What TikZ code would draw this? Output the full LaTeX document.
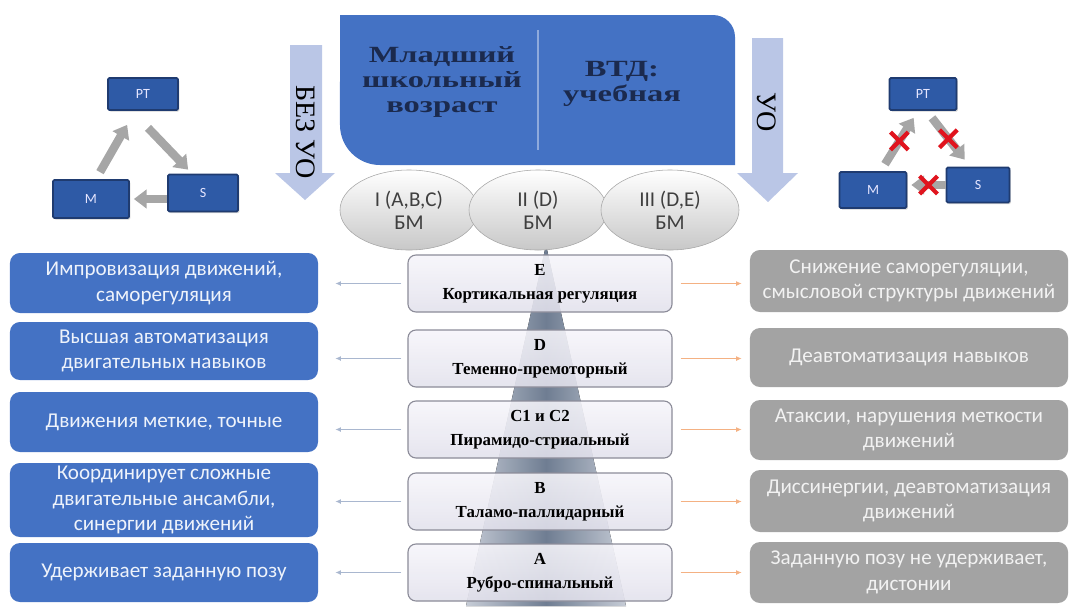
\documentclass[tikz,border=0pt]{standalone}
\usepackage{fontspec}
\setmainfont{Liberation Serif}
\newfontfamily\calib{Carlito}
\newfontfamily\headserif[FakeStretch=1.4]{Liberation Serif}
\usepackage{tikz}
\usetikzlibrary{arrows.meta,positioning,calc,shapes.geometric,shapes.misc,shadows}
\definecolor{office}{HTML}{4472C4}
\definecolor{divider}{HTML}{8FAADC}
\definecolor{headtext}{HTML}{1B2A4E}
\definecolor{flow}{HTML}{BAC6E6}
\definecolor{txtwhite}{HTML}{EEF3FB}
\definecolor{badgray}{HTML}{A3A3A3}
\definecolor{txtgray}{HTML}{F2F2F2}
\definecolor{levgray}{HTML}{8C8C99}
\definecolor{levtop}{HTML}{F6F5FA}
\definecolor{levbot}{HTML}{E2E1EC}
\definecolor{ovgray}{HTML}{A6A6A6}
\definecolor{ovbot}{HTML}{C8C8C8}
\definecolor{ovtext}{HTML}{3F3F3F}
\definecolor{unitblue}{HTML}{2E5AA6}
\definecolor{unitdark}{HTML}{1F3B70}
\definecolor{loopgray}{HTML}{A6A6A6}
\definecolor{crossred}{HTML}{E0141E}
\definecolor{linkblue}{HTML}{A9B7CF}
\definecolor{linkorange}{HTML}{F4B183}
\definecolor{pyrlight}{HTML}{C6CCD6}
\definecolor{pyrdark}{HTML}{6F7D92}

\begin{document}
\begin{tikzpicture}[x=0.025cm,y=0.025cm,>=Latex,every node/.style={font=\calib},
  sidebox/.style={rounded corners=2.5mm,minimum width=77mm,inner sep=0pt,align=center,font=\calib\fontsize{15}{18}\selectfont},
  goodbox/.style={sidebox,fill=office,text=txtwhite},
  badbox/.style={sidebox,fill=badgray,text=txtgray,minimum width=79.5mm},
  levelbox/.style={draw=levgray,line width=.8pt,rounded corners=2mm,top color=levtop,bottom color=levbot,fill opacity=.88,text opacity=1,minimum width=66mm,minimum height=14.25mm,inner sep=0pt,align=center,font=\bfseries\fontsize{12}{17}\selectfont},
  stagebox/.style={ellipse,draw=ovgray,top color=white,bottom color=ovbot,minimum width=34.5mm,minimum height=20mm,inner sep=0pt,align=center,text=ovtext,font=\calib\fontsize{15}{16.5}\selectfont},
  unitbox/.style={draw=unitdark,fill=unitblue,line width=1.2pt,rounded corners=1pt,text=white!90!blue,font=\calib\fontsize{10}{10}\selectfont,drop shadow={opacity=.35,shadow xshift=1pt,shadow yshift=-1.2pt}},
  loop/.style={draw=loopgray,line width=2.1mm,-{Triangle[length=3.2mm,width=4.6mm]}},
  redx/.style={cross out,draw=crossred,line width=3pt,minimum size=3.4mm,inner sep=0pt},
  togood/.style={draw=linkblue,line width=.6pt,-{Latex[length=4pt,width=3.5pt]},shorten <=1.5mm,shorten >=4.25mm},
  tobad/.style={draw=linkorange,line width=.6pt,-{Latex[length=4pt,width=3.5pt]},shorten <=2mm,shorten >=2mm}]
\useasboundingbox (0,0) rectangle (1069,-606);
% header block
\fill[office] (340,-15) -- (713,-15) arc[start angle=90,end angle=0,radius=5.5mm] -- (735,-165) -- (380,-165) arc[start angle=270,end angle=180,radius=10mm] -- cycle;
\draw[divider,line width=1pt] (538,-30) -- (538,-150);
\node[align=center,text=headtext,font=\headserif\bfseries\fontsize{16.5}{18}\selectfont] (age) at (442,-82) {Младший\\школьный\\возраст};
\node[align=center,text=headtext,font=\headserif\bfseries\fontsize{16.5}{18}\selectfont] (act) at (622,-84) {ВТД:\\учебная};
% side arrows
\fill[flow] (290,-45) -- (322,-45) -- (322,-173) -- (335,-173) -- (305,-200) -- (275,-173) -- (290,-173) -- cycle;
\node[rotate=-90,font=\fontsize{20}{20}\selectfont] (noreg) at (306,-132) {БЕЗ УО};
\fill[flow] (752,-38) -- (783,-38) -- (783,-173) -- (798,-173) -- (768,-202) -- (737,-173) -- (752,-173) -- cycle;
\node[rotate=-90,font=\fontsize{20}{20}\selectfont] (reg) at (767,-112) {УО};
% pyramid
\fill[left color=pyrlight,right color=pyrlight,middle color=pyrdark] (546,-245) -- (626,-606) -- (466,-606) -- cycle;
% stages
\node[stagebox] (st1) at (409,-210) {I (A,B,C)\\БМ};
\node[stagebox] (st2) at (538,-210) {II (D)\\БМ};
\node[stagebox] (st3) at (670,-210) {III (D,E)\\БМ};
% levels
\foreach \id/\yl/\hl/\yc/\yr/\hr/\ltxt/\ctxt/\rtxt in {
  e/283/60/283.5/281/62/{Импровизация движений,\\саморегуляция}/{E\\Кортикальная регуляция}/{Снижение саморегуляции,\\смысловой структуры движений},
  d/351/58/358.5/357.5/59/{Высшая автоматизация\\двигательных навыков}/{D\\Теменно-премоторный}/{Деавтоматизация навыков},
  c/422/60/429.5/430/60/{Движения меткие, точные}/{C1 и C2\\Пирамидо-стриальный}/{Атаксии, нарушения меткости\\движений},
  b/500/74/501.5/501/62/{Координирует сложные\\двигательные ансамбли,\\синергии движений}/{B\\Таламо-паллидарный}/{Диссинергии, деавтоматизация\\движений},
  a/572.5/59/572.5/572.5/61/{Удерживает заданную позу}/{A\\Рубро-спинальный}/{Заданную позу не удерживает,\\дистонии}}{
\node[goodbox,minimum height=\hl*0.25mm] (l\id) at (164,-\yl) {\ltxt};
\node[levelbox] (c\id) at (540,-\yc) {\ctxt};
\node[badbox,minimum height=\hr*0.25mm] (r\id) at (909,-\yr) {\rtxt};
\draw[togood] (c\id.west) -- (l\id.east |- c\id.west);
\draw[tobad] (c\id.east) -- (r\id.west |- c\id.east);}
% loop without regulation
\node[unitbox,minimum width=17.5mm,minimum height=8mm] (pt1) at (143,-94) {PT};
\node[unitbox,minimum width=19mm,minimum height=9.5mm] (m1) at (91,-199) {M};
\node[unitbox,minimum width=17.5mm,minimum height=9.25mm] (s1) at (203,-193) {S};
\draw[loop] ($(m1.north)+(9,7)$) -- ($(pt1.south west)+(20,-14)$);
\draw[loop] ($(pt1.south)+(5,-17)$) -- ($(s1.north west)+(21,4)$);
\draw[loop] (s1.west |- m1) -- ($(m1.east)+(4,0)$);
% loop with regulation
\node[unitbox,minimum width=16.75mm,minimum height=8mm] (pt2) at (923,-94) {PT};
\node[unitbox,minimum width=16.75mm,minimum height=9mm] (m2) at (873,-190) {M};
\node[unitbox,minimum width=15.75mm,minimum height=8.75mm] (s2) at (978,-185) {S};
\draw[loop] ($(m2.north)+(12,7)$) -- node[redx]{} ($(pt2.south west)+(25,-7)$);
\draw[loop] ($(pt2.south)+(9,-7)$) -- node[redx]{} ($(s2.north west)+(19,7)$);
\draw[loop] (s2.west) -- node[redx]{} ($(m2.east |- s2.west)+(4,0)$);
\end{tikzpicture}
\end{document}
